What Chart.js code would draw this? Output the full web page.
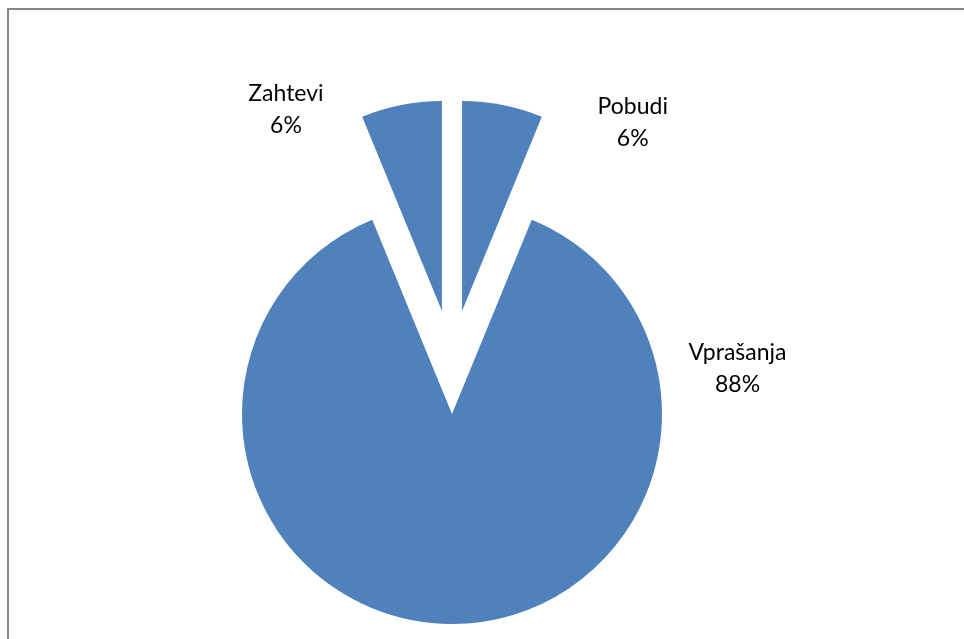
<!DOCTYPE html>
<html>
<head>
<meta charset="utf-8">
<style>
  html, body { margin: 0; padding: 0; background: #fff; overflow: hidden; }
  #wrap { position: relative; width: 964px; height: 639px; }
</style>
<script src="https://cdn.jsdelivr.net/npm/chart.js@4/dist/chart.umd.min.js"></script>
</head>
<body>
<div id="wrap"><canvas id="pieChart" width="964" height="639"></canvas></div>
<script>
// data
const categories = ["Pobudi", "Vprašanja", "Zahtevi"];
const shares = [6.2, 87.6, 6.2];
const percentLabels = ["6%", "88%", "6%"];

// label anchors: angle (deg, clockwise from top) and distance in radii
const labelAngles = [37, 91.4, -33.3];
const labelDist = [1.43, 1.36, 1.44];

// how far every slice is pulled out from the centre, px
const explode = 52;

const framePlugin = {
    id: "frame",
    beforeDraw(chart) {
        const ctx = chart.ctx;
        ctx.save();
        ctx.strokeStyle = "#878787";
        ctx.lineWidth = 2;
        ctx.beginPath();
        ctx.moveTo(8, chart.height);
        ctx.lineTo(8, 9);
        ctx.lineTo(chart.width, 9);
        ctx.stroke();
        ctx.restore();
    }
};

// pull each slice out along its middle angle (Excel style explode)
const explodeSlices = {
    id: "explodeSlices",
    afterDatasetsUpdate(chart) {
        const area = chart.chartArea;
        const cx = (area.left + area.right) / 2;
        const cy = (area.top + area.bottom) / 2;
        chart.getDatasetMeta(0).data.forEach(function (arc) {
            const mid = (arc.startAngle + arc.endAngle) / 2;
            arc.x = cx + Math.cos(mid) * explode;
            arc.y = cy + Math.sin(mid) * explode;
        });
    }
};

const sliceLabels = {
    id: "sliceLabels",
    afterDatasetsDraw(chart) {
        const ctx = chart.ctx;
        const area = chart.chartArea;
        const cx = (area.left + area.right) / 2;
        const cy = (area.top + area.bottom) / 2;
        const R = chart.getDatasetMeta(0).controller.outerRadius;
        ctx.save();
        ctx.font = "23px Lato";
        ctx.fillStyle = "#000";
        ctx.textAlign = "center";
        ctx.textBaseline = "middle";
        categories.forEach(function (name, i) {
            const a = labelAngles[i] * Math.PI / 180;
            const r = R * labelDist[i];
            const x = cx + Math.sin(a) * r;
            const y = cy - Math.cos(a) * r;
            ctx.fillText(name, x, y - 16);
            ctx.fillText(percentLabels[i], x, y + 16);
        });
        ctx.restore();
    }
};

new Chart(document.getElementById("pieChart"), {
    type: "pie",
    data: {
        labels: categories,
        datasets: [{
            data: shares,
            backgroundColor: "#4f81bd",
            borderWidth: 0,
            hoverOffset: 0
        }]
    },
    options: {
        responsive: false,
        animation: false,
        layout: {
            padding: { top: 152, bottom: 67, left: 212, right: 272 }
        },
        plugins: {
            legend: { display: false },
            tooltip: { enabled: false }
        }
    },
    plugins: [framePlugin, explodeSlices, sliceLabels]
});
</script>
</body>
</html>
